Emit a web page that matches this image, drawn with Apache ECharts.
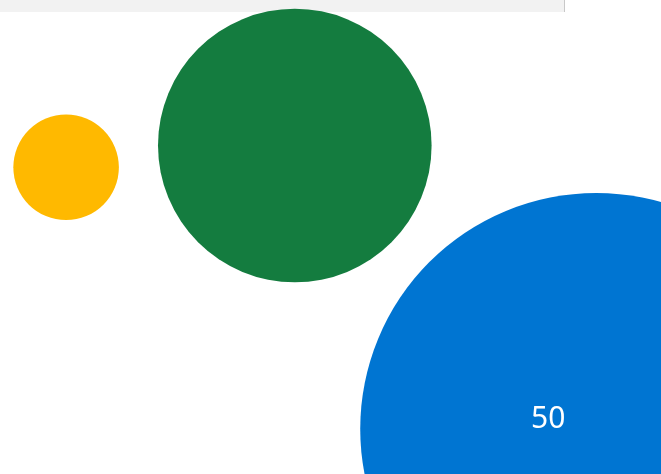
<!DOCTYPE html>
<html>
<head>
<meta charset="utf-8">
<script src="https://cdn.jsdelivr.net/npm/echarts@6/dist/echarts.min.js"></script>
<style>
html,body{margin:0;padding:0;background:#fff;}
#chart{width:661px;height:474px;}
</style>
</head>
<body>
<div id="chart"></div>
<script>
// Data (x, y in axis units 0..100; size value)
var names = ['Yellow', 'Green', 'Blue'];
var xValues = [10.0, 44.6, 90.2];
var yValues = [64.7, 69.3, 9.5];
var sizeValues = [2.5, 16.8, 50];
var labelValues = ['', '', '50'];
var colors = ['#FFB900', '#147C3F', '#0075D2'];

var chart = echarts.init(document.getElementById('chart'));
var maxSize = 50, maxDiameter = 472;
var data = names.map(function (n, i) {
  return {
    name: n,
    value: [xValues[i], yValues[i], sizeValues[i]],
    itemStyle: { color: colors[i], opacity: 1 },
    label: {
      show: labelValues[i] !== '',
      formatter: labelValues[i],
      offset: [-48, -10]
    }
  };
});
chart.setOption({
  animation: false,
  grid: { left: 0, right: 0, top: 0, bottom: 0 },
  xAxis: { type: 'value', min: 0, max: 100, show: false },
  yAxis: { type: 'value', min: 0, max: 100, show: false },
  graphic: [{
    type: 'rect',
    z: -10,
    shape: { x: 0, y: 0, width: 564, height: 12 },
    style: { fill: '#F2F2F2', stroke: null }
  }, {
    type: 'rect',
    z: -10,
    shape: { x: 564, y: 0, width: 1, height: 12 },
    style: { fill: '#C8C8C8' }
  }],
  series: [{
    type: 'scatter',
    clip: false,
    symbol: 'circle',
    symbolSize: function (v) { return Math.sqrt(v[2] / maxSize) * maxDiameter; },
    data: data,
    itemStyle: { opacity: 1 },
    label: {
      position: 'inside',
      color: '#ffffff',
      fontSize: 30,
      fontFamily: 'Noto Sans',
      fontWeight: 'normal'
    },
    emphasis: { disabled: true }
  }]
});
</script>
</body>
</html>
